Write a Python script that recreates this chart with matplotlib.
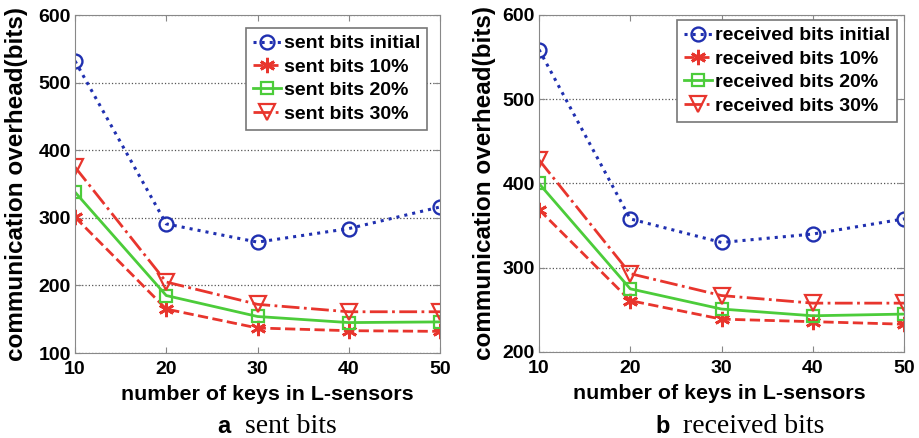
import matplotlib
matplotlib.use('Agg')
import matplotlib.pyplot as plt

keys = [10, 20, 30, 40, 50]

sent_initial = [532, 291, 264, 284, 316]
sent_10 = [301, 165, 137, 133, 132]
sent_20 = [338, 185, 154, 145, 146]
sent_30 = [375, 205, 172, 161, 161]

recv_initial = [559, 358, 330, 340, 358]
recv_10 = [369, 261, 239, 236, 233]
recv_20 = [400, 275, 251, 243, 245]
recv_30 = [428, 293, 267, 258, 258]

BLUE = '#2030b0'
RED = '#e8352d'
GREEN = '#4ccc3a'
ASTER = (6, 2, 0)  # asterisk like matlab '*'

plt.rcParams['font.family'] = 'Liberation Sans'
plt.rcParams['font.weight'] = 'bold'

fig = plt.figure(figsize=(9.19, 4.38), dpi=100)
ax1 = fig.add_axes([75/919, 1-353/438, 365/919, 338/438])
ax2 = fig.add_axes([539/919, 1-352/438, 365/919, 337/438])


def panel(ax, name, ini, p10, p20, p30, ylim, yticks, legpos, xlab_x, ylab_x):
    ax.plot(keys, ini, ':', color=BLUE, marker='o', mfc='none', ms=10, mew=1.7, lw=2.2, label=name + ' initial')
    ax.plot(keys, p10, '--', color=RED, marker=ASTER, ms=11, mew=2, lw=2, label=name + ' 10%')
    ax.plot(keys, p20, '-', color=GREEN, marker='s', mfc='none', ms=8.5, mew=1.6, lw=2, label=name + ' 20%')
    ax.plot(keys, p30, '-.', color=RED, marker='v', mfc='none', ms=12, mew=1.6, lw=2, label=name + ' 30%')
    ax.set_xlim(10, 50)
    ax.set_ylim(*ylim)
    ax.set_xticks(keys)
    ax.set_yticks(yticks)
    ax.yaxis.grid(True, linestyle=':', color='#555555', lw=0.9)
    ax.tick_params(direction='in', top=True, right=True, labelsize=14, length=4, color='#888888')
    ax.tick_params(axis='x', pad=6)
    ax.tick_params(axis='y', pad=3)
    for lab in ax.get_xticklabels() + ax.get_yticklabels():
        lab.set_fontweight('bold')
    for s in ax.spines.values():
        s.set_color('#888888')
    ax.set_xlabel('number of keys in L-sensors', fontsize=15.4, fontweight='bold')
    ax.xaxis.set_label_coords(xlab_x, -0.095)
    ax.set_ylabel('communication overhead(bits)', fontsize=17.5, fontweight='bold')
    ax.yaxis.set_label_coords(ylab_x, 0.5)
    leg = ax.legend(loc='upper right', bbox_to_anchor=legpos, handlelength=1.45,
                    handletextpad=0.15, borderpad=0.35, labelspacing=0.3,
                    borderaxespad=0, fancybox=False, framealpha=1,
                    edgecolor='#777777', prop={'weight': 'bold', 'size': 14})
    leg.get_frame().set_linewidth(1.2)


panel(ax1, 'sent bits', sent_initial, sent_10, sent_20, sent_30, (100, 600),
      [100, 200, 300, 400, 500, 600], (1 - 13/365, 1 - 13/338), 0.527, -0.130)
panel(ax2, 'received bits', recv_initial, recv_10, recv_20, recv_30, (200, 600),
      [200, 300, 400, 500, 600], (1 - 7/365, 1 - 5/337), 0.495, -0.118)

base = 1 - 433/438
fig.text(217/919, base, 'a', ha='left', va='baseline', fontsize=17, fontweight='bold')
fig.text(245/919, base, 'sent bits', ha='left', va='baseline', fontsize=20,
         family='Liberation Serif', fontweight='normal')
fig.text(655/919, base, 'b', ha='left', va='baseline', fontsize=17, fontweight='bold')
fig.text(683/919, base, 'received bits', ha='left', va='baseline', fontsize=20,
         family='Liberation Serif', fontweight='normal')

fig.savefig('out.png', dpi=100)
